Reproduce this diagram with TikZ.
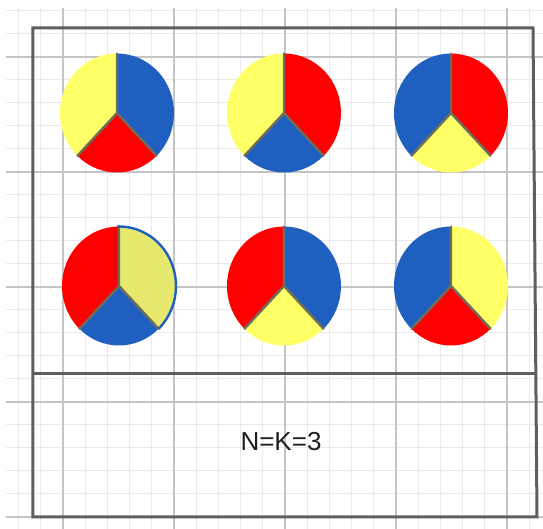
\documentclass[tikz,border=0pt]{standalone}
\usepackage{fontspec}
\setmainfont{Liberation Sans}
\usepackage{xcolor}
\usepackage{tikz}
\usetikzlibrary{positioning}
\definecolor{gridminor}{HTML}{EAEAEA}
\definecolor{gridmajor}{HTML}{C4C4C4}
\definecolor{framegray}{HTML}{5E5E5E}
\definecolor{pieyellow}{HTML}{FFFF66}
\definecolor{pielime}{HTML}{E6E96E}
\definecolor{piered}{HTML}{FF0000}
\definecolor{pieblue}{HTML}{1F5FC0}
\definecolor{spoke}{HTML}{6E6E5A}

\begin{document}
\begin{tikzpicture}[x=0.5pt,y=-0.5pt,
  minor/.style={draw=gridminor,line width=0.5pt},
  major/.style={draw=gridmajor,line width=0.7pt},
  frame/.style={draw=framegray,line width=1.5pt,line join=miter},
  divider/.style={draw=spoke,line width=1.2pt,line cap=round}]
  \useasboundingbox (0,0) rectangle (543,529);
  % paper grid
  \foreach \j in {0,...,23}{
    \pgfmathsetmacro{\gx}{18.6+\j*22.2}
    \draw[minor] (\gx,8) -- (\gx,529);
  }
  \foreach \k in {0,...,22}{
    \pgfmathsetmacro{\gy}{11+\k*23}
    \draw[minor] (6,\gy) -- (543,\gy);
  }
  \foreach \gx in {63,174,285,396,507}{
    \draw[major] (\gx,8) -- (\gx,529);
  }
  \foreach \gy in {57,172,287,402,517}{
    \draw[major] (6,\gy) -- (543,\gy);
  }
  % outer frame and separator
  \draw[frame] (33,28) -- (533,28) -- (537,517) -- (33,517) -- cycle;
  \draw[frame] (33,374) -- (535.8,374);
  % six pies: left / bottom / right sector
  \foreach \cx/\cy/\cl/\cb/\cr in {117/113/pieyellow/piered/pieblue,
      284/113/pieyellow/pieblue/piered,
      451/113/pieblue/pieyellow/piered,
      119/286/piered/pieblue/pielime,
      284/286/piered/pieyellow/pieblue,
      451/286/pieblue/piered/pieyellow}{
    \begin{scope}[shift={(\cx,\cy)}]
      \fill[\cl] (0,0) -- (90:28.5pt and 29.75pt)
        arc[start angle=90,end angle=226,x radius=28.5pt,y radius=29.75pt] -- cycle;
      \fill[\cb] (0,0) -- (226:28.5pt and 29.75pt)
        arc[start angle=226,end angle=314,x radius=28.5pt,y radius=29.75pt] -- cycle;
      \fill[\cr] (0,0) -- (314:28.5pt and 29.75pt)
        arc[start angle=314,end angle=450,x radius=28.5pt,y radius=29.75pt] -- cycle;
      \draw[divider] (90:28.5pt and 29.75pt) -- (0,0) -- (226:28.5pt and 29.75pt);
      \draw[divider] (0,0) -- (314:28.5pt and 29.75pt);
    \end{scope}
  }
  % blue rim on the pale sector
  \begin{scope}[shift={(119,286)}]
    \draw[pieblue,line width=1.2pt] (-46:28.5pt and 29.75pt)
      arc[start angle=-46,end angle=92,x radius=28.5pt,y radius=29.75pt];
  \end{scope}
  \node[font=\fontsize{13}{15}\selectfont,text=black!88] (caption) at (281,442) {N=K=3};
\end{tikzpicture}
\end{document}
